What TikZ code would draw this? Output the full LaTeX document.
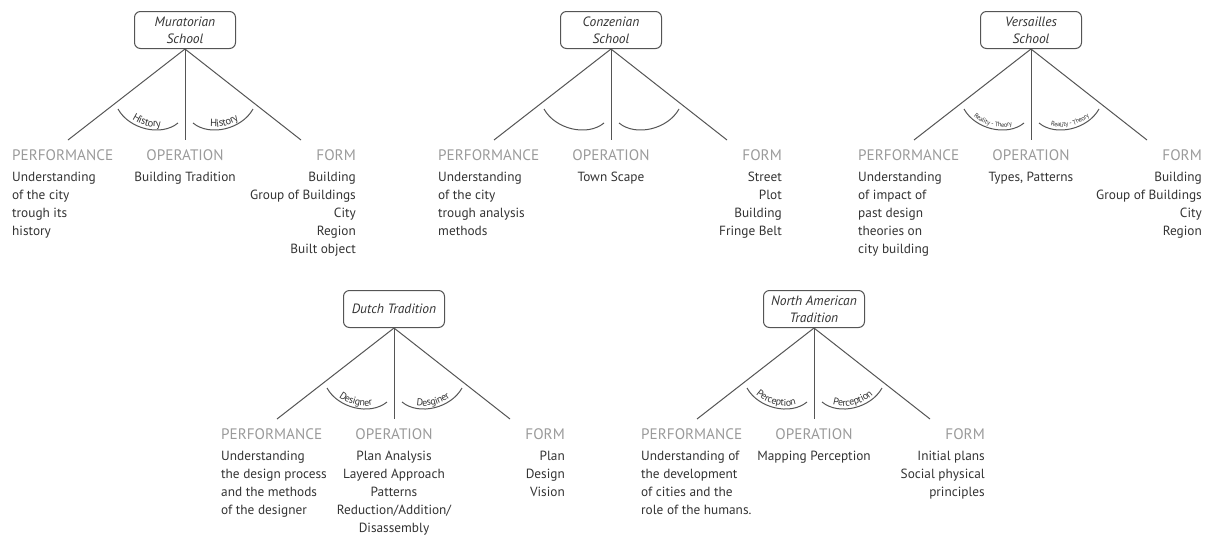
\documentclass[tikz,border=0pt]{standalone}
\usepackage{fontspec}
\setmainfont{PT Sans}
\usetikzlibrary{decorations.text}
\definecolor{hdr}{HTML}{9A9A9A}
\definecolor{bodytxt}{HTML}{333333}
\definecolor{linecol}{HTML}{555555}
\newcommand\curlab{\fontsize{10.5}{10.5}\selectfont}
\newcommand\hd[1]{{\fontsize{15.2}{18}\selectfont\color{hdr}#1}\\[3.5pt]}
\tikzset{
  schoolbox/.style={draw=linecol, line width=1pt, rounded corners=6pt,
    minimum width=101pt, minimum height=37pt, inner sep=1pt, align=center,
    text=bodytxt, font=\itshape\fontsize{13.5}{17}\selectfont},
  branch/.style={draw=linecol, line width=1pt},
  arcline/.style={draw=linecol, line width=1pt},
  coltext/.style={inner sep=0pt, text=bodytxt, font=\fontsize{13.3}{18}\selectfont},
  colleft/.style={coltext, anchor=north west, align=left},
  colmid/.style={coltext, anchor=north, align=center},
  colright/.style={coltext, anchor=north east, align=right},
}
\newcommand\onetree[9]{%
  \begin{scope}[shift={(#2,#3)}]
    \node[schoolbox, anchor=south] (#1) at (0,0) {#4};
    \coordinate (#1L) at (-117,91);
    \coordinate (#1M) at (0,91);
    \coordinate (#1R) at (116,91);
    \draw[branch] (#1.south) -- (#1L);
    \draw[branch] (#1.south) -- (#1M);
    \draw[branch] (#1.south) -- (#1R);
    \draw[arcline] (-67,60) .. controls (-56,80) and (-24,88) .. (-7,74);
    \draw[arcline] (8,74) .. controls (25,88) and (57,80) .. (68,60);
    \if\relax\detokenize{#8}\relax\else
      \path[decorate, decoration={text along path, text align=center, raise=3pt,
        text={|\color{bodytxt}\curlab|#8}}]
        (-67,60) .. controls (-56,80) and (-24,88) .. (-7,74);
      \path[decorate, decoration={text along path, text align=center, raise=3pt,
        text={|\color{bodytxt}\curlab|#9}}]
        (8,74) .. controls (25,88) and (57,80) .. (68,60);
    \fi
    \node[colleft] (#1P) at (-173,100) {#5};
    \node[colmid] (#1O) at (0,100) {#6};
    \node[colright] (#1F) at (171,100) {#7};
  \end{scope}}
\begin{document}
\begin{tikzpicture}[x=1pt, y=-1pt]
\useasboundingbox (0,0) rectangle (1208,536);
\onetree{mur}{185}{49}{Muratorian\\School}
  {\hd{PERFORMANCE}Understanding\\of the city\\trough its\\history}
  {\hd{OPERATION}Building Tradition}
  {\hd{FORM}Building\\Group of Buildings\\City\\Region\\Built object}
  {History}{History}
\onetree{con}{611}{49}{Conzenian\\School}
  {\hd{PERFORMANCE}Understanding\\of the city\\trough analysis\\methods}
  {\hd{OPERATION}Town Scape}
  {\hd{FORM}Street\\Plot\\Building\\Fringe Belt}
  {}{}
\renewcommand\curlab{\fontsize{6.5}{6.5}\selectfont}
\onetree{ver}{1031}{49}{Versailles\\School}
  {\hd{PERFORMANCE}Understanding\\of impact of\\past design\\theories on\\city building}
  {\hd{OPERATION}Types, Patterns}
  {\hd{FORM}Building\\Group of Buildings\\City\\Region}
  {Reality - Theory}{Reality - Theory}
\renewcommand\curlab{\fontsize{10}{10}\selectfont}
\onetree{dut}{394}{328}{Dutch Tradition}
  {\hd{PERFORMANCE}Understanding\\the design process\\and the methods\\of the designer}
  {\hd{OPERATION}Plan Analysis\\Layered Approach\\Patterns\\Reduction/Addition/\\Disassembly}
  {\hd{FORM}Plan\\Design\\Vision}
  {Designer}{Desginer}
\onetree{nam}{814}{328}{North American\\Tradition}
  {\hd{PERFORMANCE}Understanding of\\the development\\of cities and the\\role of the humans.}
  {\hd{OPERATION}Mapping Perception}
  {\hd{FORM}Initial plans\\Social physical\\principles}
  {Perception}{Perception}
\end{tikzpicture}
\end{document}
